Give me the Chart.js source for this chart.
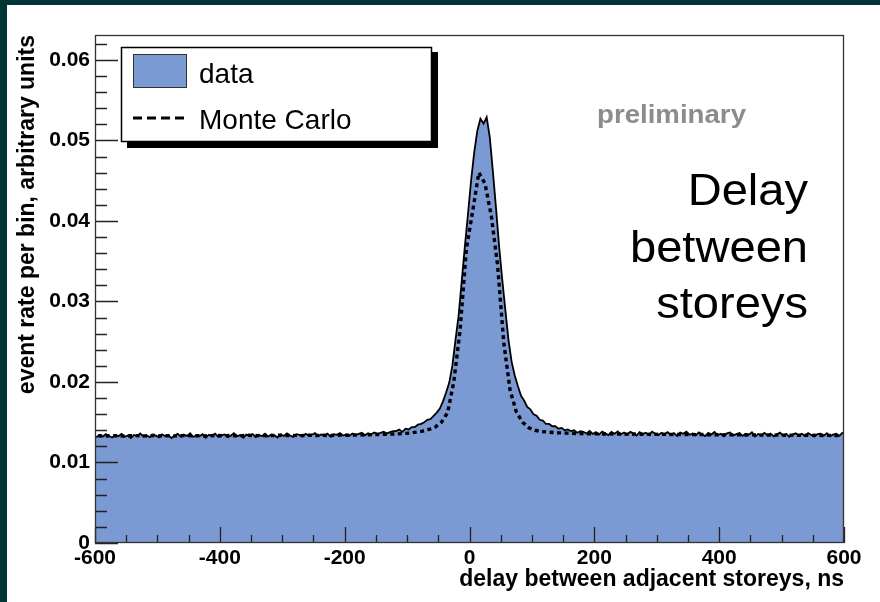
<!DOCTYPE html>
<html><head><meta charset="utf-8">
<script src="https://cdn.jsdelivr.net/npm/chart.js@4.4.1/dist/chart.umd.min.js"></script>
<style>html,body{margin:0;padding:0;background:#023535;overflow:hidden}canvas{display:block}</style>
</head><body>
<canvas id="c" width="880" height="602"></canvas>
<script>
// ---- data ----
const xMin = -600, xMax = 600;
const dataBinWidth = 5;   // ns per data bin
const mcBinWidth = 10;    // ns per Monte Carlo bin
const seriesLabels = ['data', 'Monte Carlo'];
const xTickValues = [-600, -400, -200, 0, 200, 400, 600];
const xTickLabels = ['-600', '-400', '-200', '0', '200', '400', '600'];
const yTickLabels = ['0', '0.01', '0.02', '0.03', '0.04', '0.05', '0.06'];
const xTitle = 'delay between adjacent storeys, ns';
const yTitle = 'event rate per bin, arbitrary units';
const noteText = 'preliminary';
const bigText = ['Delay', 'between', 'storeys'];

const dataRate = [
0.01318,0.01345,0.01322,0.01352,0.01330,0.01310,0.01341,0.01327,0.01356,0.01320,
0.01336,0.01305,0.01342,0.01329,0.01360,0.01324,0.01339,0.01315,0.01348,0.01333,
0.01312,0.01350,0.01326,0.01340,0.01303,0.01335,0.01355,0.01321,0.01344,0.01330,
0.01362,0.01317,0.01338,0.01325,0.01351,0.01308,0.01343,0.01331,0.01358,0.01319,
0.01337,0.01349,0.01314,0.01332,0.01365,0.01326,0.01340,0.01307,0.01346,0.01334,
0.01353,0.01316,0.01341,0.01328,0.01359,0.01322,0.01347,0.01338,0.01311,0.01350,
0.01329,0.01361,0.01335,0.01318,0.01352,0.01342,0.01323,0.01357,0.01336,0.01345,
0.01364,0.01327,0.01349,0.01339,0.01358,0.01320,0.01351,0.01343,0.01366,0.01334,
0.01348,0.01332,0.01360,0.01341,0.01355,0.01369,0.01338,0.01362,0.01350,0.01373,
0.01356,0.01368,0.01381,0.01360,0.01377,0.01388,
0.0139,0.0141,0.0138,0.0142,0.0141,0.0144,0.0144,0.0147,0.0148,0.0150,
0.0153,0.0154,0.0158,0.0162,0.0167,0.0176,0.0187,0.0199,0.0220,0.0252,
0.0282,0.0325,0.0368,0.0408,
0.0450,0.0485,0.0512,0.0527,0.0521,0.0529,0.0504,0.0461,0.0416,0.0368,
0.0327,0.0289,0.0252,0.0225,0.0208,0.0195,0.0183,0.0177,0.0169,0.0166,
0.0160,0.0158,0.0153,0.0152,0.0148,0.0148,0.0145,0.0145,0.0142,0.0143,
0.0140,0.0141,0.0139,0.0140,0.0137,0.0139,
0.01382,0.01360,0.01391,0.01355,0.01378,0.01346,0.01385,0.01364,0.01340,0.01379,
0.01358,0.01387,0.01349,0.01372,0.01344,0.01380,0.01362,0.01335,0.01376,0.01353,
0.01369,0.01341,0.01383,0.01357,0.01338,0.01370,0.01351,0.01377,0.01343,0.01366,
0.01330,0.01372,0.01356,0.01384,0.01345,0.01361,0.01337,0.01374,0.01350,0.01328,
0.01368,0.01347,0.01379,0.01339,0.01357,0.01326,0.01363,0.01373,0.01335,0.01352,
0.01366,0.01331,0.01358,0.01344,0.01375,0.01322,0.01354,0.01340,0.01369,0.01336,
0.01360,0.01325,0.01349,0.01371,0.01333,0.01355,0.01318,0.01347,0.01362,0.01338,
0.01357,0.01329,0.01366,0.01341,0.01320,0.01352,0.01359,0.01334,0.01363,0.01327,
0.01345,0.01356,0.01330,0.01368
];

const mcRate = [
0.01331,0.01328,0.01333,0.01330,0.01327,0.01332,0.01334,0.01329,0.01331,0.01335,
0.01330,0.01333,0.01328,0.01332,0.01336,0.01331,0.01334,0.01330,0.01333,0.01337,
0.01332,0.01335,0.01331,0.01334,0.01338,0.01333,0.01336,0.01332,0.01335,0.01339,
0.01334,0.01337,0.01333,0.01336,0.01340,0.01335,0.01338,0.01334,0.01337,0.01341,
0.01338,0.01341,0.01343,0.01342,0.01346,0.01348,0.01350,0.01353,0.01356,0.01360,
0.01366,0.01378,0.01390,0.01410,0.01440,0.01500,0.01620,0.02010,0.02650,0.03650,
0.04120,0.04600,0.04460,0.04060,0.03450,0.02480,0.01900,0.01630,0.01500,0.01430,
0.01400,0.01385,0.01378,0.01372,0.01368,0.01365,0.01362,0.01360,0.01358,0.01356,
0.01355,0.01353,0.01356,0.01352,0.01354,0.01350,0.01353,0.01351,0.01349,0.01352,
0.01348,0.01350,0.01347,0.01349,0.01346,0.01348,0.01345,0.01347,0.01344,0.01346,
0.01343,0.01345,0.01342,0.01344,0.01341,0.01343,0.01340,0.01342,0.01339,0.01341,
0.01338,0.01340,0.01337,0.01339,0.01336,0.01338,0.01335,0.01337,0.01334,0.01336
];

// ---- style ----
const FILL = '#7b99d2';
const TEAL = '#023535';
const FONT = "'Liberation Sans', Arial, Helvetica, sans-serif";

// histogram: one point per bin centre, plus the two outer edges of the range
const dataPts = dataRate.map((v, i) => ({x: xMin + (i + 0.5) * dataBinWidth, y: v}));
dataPts.unshift({x: xMin, y: dataRate[0]});
dataPts.push({x: xMax, y: dataRate[dataRate.length - 1]});
const mcPts = mcRate.map((v, i) => ({x: xMin + (i + 0.5) * mcBinWidth, y: v}));

const framePlugin = {
  id: 'frame',
  beforeDraw(chart) {
    const ctx = chart.ctx;
    ctx.save();
    ctx.fillStyle = TEAL;
    ctx.fillRect(0, 0, chart.width, chart.height);
    ctx.fillStyle = '#ffffff';
    ctx.fillRect(7, 5, chart.width - 7, chart.height - 5);
    ctx.restore();
  },
  afterDatasetsDraw(chart) {
    const {ctx, chartArea: a, scales: {x, y}} = chart;
    ctx.save();
    ctx.strokeStyle = '#222';
    ctx.lineWidth = 1.3;
    ctx.beginPath();
    for (let k = 0; ; k++) {
      const v = k * 0.002;
      if (v > y.max + 1e-9) break;
      const py = Math.round(y.getPixelForValue(v)) + 0.5;
      const len = (k % 5 === 0) ? 23 : 12;
      ctx.moveTo(a.left, py); ctx.lineTo(a.left + len, py);
    }
    for (let v = xMin; v <= xMax; v += 50) {
      const px = Math.round(x.getPixelForValue(v)) + 0.5;
      const len = (v % 200 === 0) ? 16 : 8;
      ctx.moveTo(px, a.bottom); ctx.lineTo(px, a.bottom - len);
    }
    ctx.stroke();
    ctx.strokeStyle = '#333';
    ctx.strokeRect(a.left + 0.5, a.top + 0.5, a.right - a.left - 1, a.bottom - a.top - 1);
    ctx.restore();
  },
  afterDraw(chart) {
    const ctx = chart.ctx;
    ctx.save();
    // legend with shadow
    ctx.fillStyle = '#000';
    ctx.fillRect(127, 52, 311, 96);
    ctx.fillStyle = '#fff';
    ctx.fillRect(121, 47, 311, 95);
    ctx.strokeStyle = '#000';
    ctx.lineWidth = 1.5;
    ctx.strokeRect(121.5, 47.5, 310, 94);
    ctx.fillStyle = FILL;
    ctx.fillRect(133, 54, 54, 34);
    ctx.strokeStyle = '#333';
    ctx.lineWidth = 1;
    ctx.strokeRect(133.5, 54.5, 53, 33);
    ctx.strokeStyle = '#000';
    ctx.lineWidth = 3;
    ctx.setLineDash([9, 5]);
    ctx.beginPath(); ctx.moveTo(133, 118); ctx.lineTo(187, 118); ctx.stroke();
    ctx.setLineDash([]);
    ctx.fillStyle = '#000';
    ctx.font = '28px ' + FONT;
    ctx.textAlign = 'left';
    ctx.textBaseline = 'alphabetic';
    ctx.fillText(seriesLabels[0], 199, 83);
    ctx.fillText(seriesLabels[1], 199, 129);
    // preliminary
    ctx.font = 'bold 25px ' + FONT;
    ctx.fillStyle = '#8c8c8c';
    const w = ctx.measureText(noteText).width;
    ctx.save();
    ctx.translate(597, 123);
    ctx.scale(149 / w, 1);
    ctx.fillText(noteText, 0, 0);
    ctx.restore();
    // big label
    ctx.font = '44px ' + FONT;
    ctx.fillStyle = '#000';
    ctx.textAlign = 'right';
    const bases = [205, 262, 318];
    bigText.forEach((t, i) => {
      ctx.save();
      ctx.translate(808, bases[i]);
      ctx.scale(1.07, 1);
      ctx.fillText(t, 0, 0);
      ctx.restore();
    });
    ctx.restore();
  }
};

new Chart(document.getElementById('c'), {
  type: 'line',
  data: {
    datasets: [
      {
        label: seriesLabels[1],
        data: mcPts,
        order: 0,
        borderColor: '#000',
        borderWidth: 3.4,
        borderDash: [4, 3.5],
        pointRadius: 0,
        tension: 0,
        fill: false
      },
      {
        label: seriesLabels[0],
        data: dataPts,
        order: 1,
        tension: 0,
        borderColor: '#000',
        borderWidth: 1.8,
        backgroundColor: FILL,
        pointRadius: 0,
        fill: 'origin'
      }
    ]
  },
  options: {
    responsive: false,
    animation: false,
    devicePixelRatio: 1,
    layout: {padding: {left: 7, top: 35, right: 36, bottom: 0}},
    plugins: {legend: {display: false}, tooltip: {enabled: false}, title: {display: false}},
    scales: {
      x: {
        type: 'linear', position: 'bottom', min: xMin, max: xMax,
        grid: {display: false, drawTicks: false},
        border: {display: false},
        ticks: {
          stepSize: 200, autoSkip: false, maxRotation: 0, minRotation: 0, padding: 3,
          color: '#000', font: {family: FONT, size: 21, weight: 'bold'},
          callback: (v) => { const i = xTickValues.indexOf(v); return i >= 0 ? xTickLabels[i] : ''; }
        },
        title: {display: true, text: xTitle, align: 'end', color: '#000',
                font: {family: FONT, size: 23, weight: 'bold'}, padding: {top: 0, bottom: 9}},
        afterFit: (s) => { s.height = 59; }
      },
      y: {
        type: 'linear', position: 'left', min: 0, max: 0.0631,
        grid: {display: false, drawTicks: false},
        border: {display: false},
        ticks: {
          stepSize: 0.01, includeBounds: false, autoSkip: false, padding: 5,
          color: '#000', font: {family: FONT, size: 21, weight: 'bold'},
          callback: (v, i) => yTickLabels[i]
        },
        title: {display: true, text: yTitle, align: 'end', color: '#000',
                font: {family: FONT, size: 23, weight: 'bold'}, padding: {top: 7, bottom: 0}},
        afterFit: (s) => { s.width = 88; }
      }
    }
  },
  plugins: [framePlugin]
});
</script>
</body></html>
